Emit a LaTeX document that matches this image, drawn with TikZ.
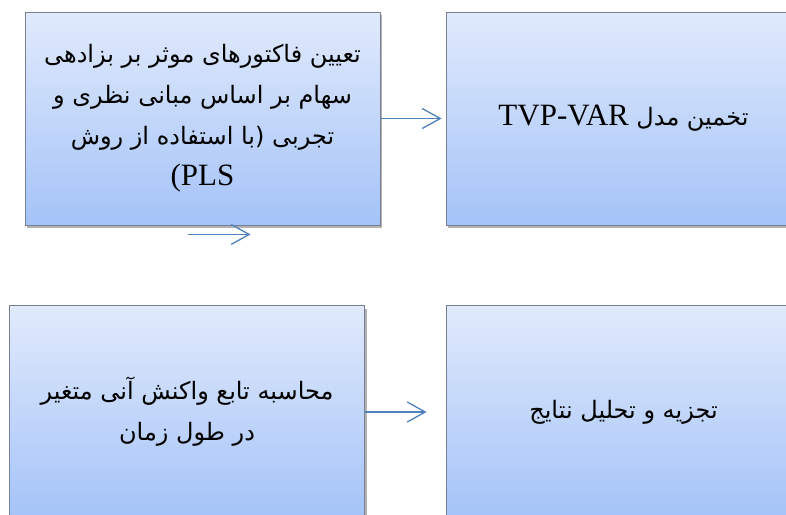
\documentclass[tikz,border=0pt]{standalone}
\usepackage{fontspec}
\setmainfont{Liberation Serif}
\newfontfamily\persianfont[Script=Arabic]{DejaVu Sans}
\newfontfamily\latinfont{Liberation Serif}
\TeXXeTstate=1
\usetikzlibrary{arrows.meta,positioning,calc,shadows}
\definecolor{boxtop}{RGB}{225,234,252}
\definecolor{boxbottom}{RGB}{164,195,248}
\definecolor{boxline}{RGB}{120,128,145}
\definecolor{arrowblue}{RGB}{79,129,189}

\begin{document}
\begin{tikzpicture}[
    x=1pt,y=-1pt,
    >={Straight Barb[length=18pt,width=20pt]},
    flow/.style={->,line width=1.3pt,draw=arrowblue},
    stage/.style={draw=boxline,line width=0.9pt,top color=boxtop,bottom color=boxbottom,
      minimum width=355pt,minimum height=213pt,align=center,inner sep=0pt,
      drop shadow={shadow xshift=2pt,shadow yshift=-3pt,fill=black!60},
      font=\persianfont\fontsize{24}{41}\selectfont}
  ]
    \useasboundingbox (0,0) rectangle (786,514);
    \clip (0,0) rectangle (786,514);

    \node[stage] (factors) at (202.5,118.5) {\beginR تعیین فاکتورهای موثر بر بزادهی\endR\\
      \beginR سهام بر اساس مبانی نظری و\endR\\
      \beginR تجربی (با استفاده از روش\endR\\
      {\latinfont\fontsize{31}{41}\selectfont (PLS}};
    \node[stage] (model) at (623.5,118.5) {\beginR تخمین مدل \beginL{\latinfont\fontsize{31}{41}\selectfont TVP-VAR}\endL\endR};
    \node[stage] (response) at (187,412) {\beginR محاسبه تابع واکنش آنی متغیر\endR\\
      \beginR در طول زمان\endR};
    \node[stage] (analysis) at (623.5,412) {\beginR تجزیه و تحلیل نتایج\endR};

    \draw[flow] (factors.east) -- ($(model.west)+(-4,0)$);
    \draw[flow] (response.east) -- ($(analysis.west)+(-19,0)$);

    \coordinate (stubstart) at ($(factors.south)+(-15,9)$);
    \coordinate (stubend) at ($(factors.south)+(48,9)$);
    \draw[flow] (stubstart) -- (stubend);
  \end{tikzpicture}
\end{document}
